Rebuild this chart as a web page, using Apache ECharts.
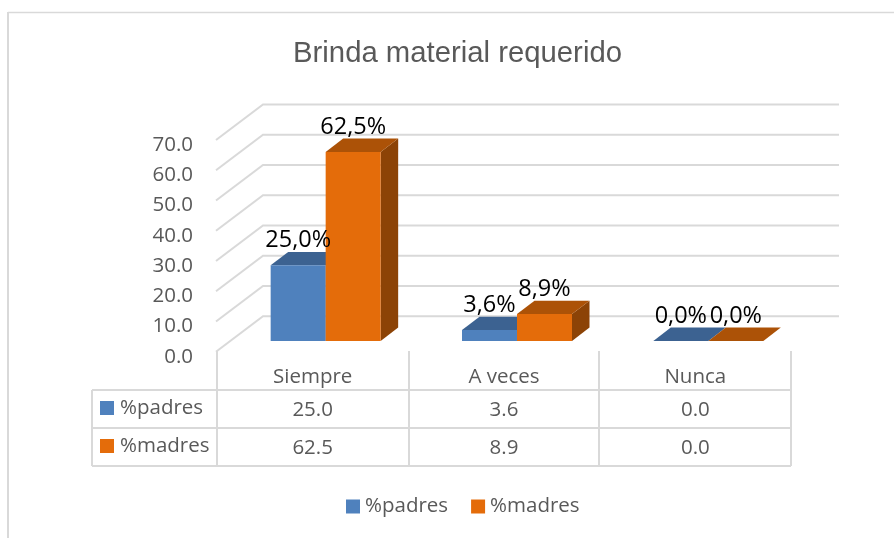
<!DOCTYPE html>
<html>
<head>
<meta charset="utf-8">
<style>html,body{margin:0;padding:0;background:#fff}#c{width:894px;height:538px}</style>
<script src="https://cdn.jsdelivr.net/npm/echarts@6/dist/echarts.min.js"></script>
</head>
<body>
<div id="c"></div>
<script>
var titleText = 'Brinda material requerido';
var categories = ['Siempre', 'A veces', 'Nunca'];
var seriesNames = ['%padres', '%madres'];
var padres = [25.0, 3.6, 0.0];
var madres = [62.5, 8.9, 0.0];
var yTicks = [0, 10, 20, 30, 40, 50, 60, 70];

var GREY = '#595959', LINE = '#d9d9d9', FONT = '"Open Sans", sans-serif', FS = 20.5;
var styles = [
  { front: '#4f81bd', top: '#3c6291', side: '#2f4f75', rowY: 409 },
  { front: '#e46c0a', top: '#ac5207', side: '#8c4306', rowY: 447 }
];
var wall = { dx: 46, dy: -35.5 }, depth = { dx: 17.5, dy: -13.3, lift: 10.8, shift: 13, w: 55 };

function barRender(si) {
  return function (params, api) {
    var i = api.value(0), v = api.value(1), st = styles[si];
    var cx = api.coord([i, 0])[0];
    var base = api.coord([i, 0])[1] - depth.lift;
    var top = api.coord([i, v])[1] - depth.lift;
    var x0 = cx + depth.shift + (si - 1) * depth.w, x1 = x0 + depth.w;
    var dx = depth.dx, dy = depth.dy;
    var ch = [
      { type: 'polygon', shape: { points: [[x1, top], [x1 + dx, top + dy], [x1 + dx, base + dy], [x1, base]] }, style: { fill: st.side } },
      { type: 'polygon', shape: { points: [[x0, top], [x0 + dx, top + dy], [x1 + dx, top + dy], [x1, top]] }, style: { fill: st.top } },
      { type: 'rect', shape: { x: x0, y: top, width: depth.w, height: base - top }, style: { fill: st.front } },
      { type: 'text', z2: 100, x: (x0 + x1) / 2, y: top - 13, style: { text: v.toFixed(1).replace('.', ',') + '%', fill: '#000', font: '23.5px ' + FONT, textAlign: 'center', textVerticalAlign: 'bottom' } },
      { type: 'text', x: cx, y: st.rowY + 1, style: { text: v.toFixed(1), fill: GREY, font: FS + 'px ' + FONT, textAlign: 'center', textVerticalAlign: 'middle' } }
    ];
    return { type: 'group', children: ch };
  };
}
function gridRender(params, api) {
  var cs = params.coordSys, y = api.coord([0, api.value(0)])[1];
  var xb = cs.x + wall.dx, yb = y + wall.dy;
  return { type: 'polyline', shape: { points: [[cs.x - 1, y], [xb, yb], [839, yb]] }, style: { stroke: LINE, lineWidth: 2, fill: null } };
}
function ln(x1, y1, x2, y2, w) {
  return { type: 'line', shape: { x1: x1, y1: y1, x2: x2, y2: y2 }, style: { stroke: LINE, lineWidth: w || 2 }, silent: true };
}
var graphics = [
  ln(8, 12.5, 894, 12.5, 1.5), ln(8, 12, 8, 538, 2),
  ln(92, 390, 791, 390), ln(92, 428, 791, 428), ln(92, 466, 791, 466),
  ln(92, 390, 92, 466), ln(217, 351, 217, 466), ln(409, 351, 409, 466), ln(599, 351, 599, 466), ln(791, 351, 791, 466)
];
seriesNames.forEach(function (n, k) {
  graphics.push({ type: 'rect', shape: { x: 100, y: styles[k].rowY - 8, width: 14, height: 14 }, style: { fill: styles[k].front } });
  graphics.push({ type: 'text', x: 120, y: styles[k].rowY - 1, style: { text: n, fill: GREY, font: FS + 'px ' + FONT, textVerticalAlign: 'middle' } });
});

var chart = echarts.init(document.getElementById('c'), null, { renderer: 'canvas' });
chart.setOption({
  animation: false,
  backgroundColor: '#fff',
  title: { text: titleText, left: 452.5, top: 34, textAlign: 'center', textStyle: { color: GREY, fontSize: 29.3, fontWeight: 'normal', fontFamily: '"Liberation Sans", Arial, sans-serif' } },
  legend: { data: seriesNames, left: 341, top: 491, icon: 'rect', itemWidth: 14, itemHeight: 14, itemGap: 23, textStyle: { color: GREY, fontSize: FS, fontFamily: FONT } },
  grid: { left: 217, top: 140, width: 574, height: 211.7 },
  xAxis: { type: 'category', data: categories, axisLine: { show: false }, axisTick: { show: false }, splitLine: { show: false }, axisLabel: { color: GREY, fontSize: FS, fontFamily: FONT, margin: 15, interval: 0 } },
  yAxis: { type: 'value', min: 0, max: 70, interval: 10, axisLine: { show: false }, axisTick: { show: false }, splitLine: { show: false }, axisLabel: { color: GREY, fontSize: FS, fontFamily: FONT, margin: 24, lineHeight: 10, verticalAlign: 'top', formatter: function (v) { return v.toFixed(1); } } },
  graphic: graphics,
  series: [
    { type: 'custom', silent: true, z: 1, renderItem: gridRender, encode: { y: 0 }, data: yTicks.map(function (t) { return [t]; }) },
    { type: 'custom', name: seriesNames[0], z: 2, itemStyle: { color: styles[0].front }, renderItem: barRender(0), encode: { x: 0, y: 1 }, data: padres.map(function (v, i) { return [i, v]; }) },
    { type: 'custom', name: seriesNames[1], z: 2, itemStyle: { color: styles[1].front }, renderItem: barRender(1), encode: { x: 0, y: 1 }, data: madres.map(function (v, i) { return [i, v]; }) }
  ]
});
</script>
</body>
</html>
